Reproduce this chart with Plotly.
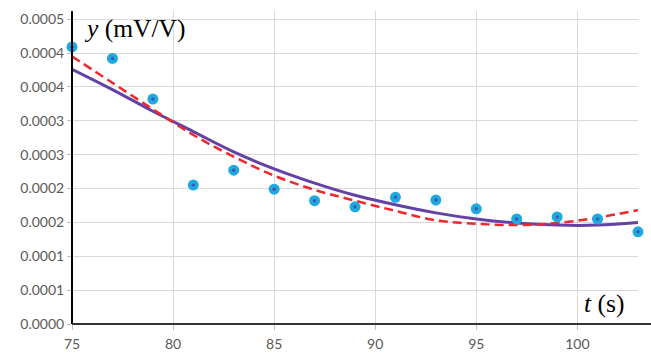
import plotly.graph_objects as go

# Measured data
t_data = [75, 77, 79, 81, 83, 85, 87, 89, 91, 93, 95, 97, 99, 101, 103]
y_data = [0.000409, 0.000392, 0.000332, 0.000205, 0.000227, 0.000199, 0.000182,
          0.000173, 0.000187, 0.000183, 0.000170, 0.000155, 0.000158, 0.000155, 0.000136]

# Fitted curves
t_fit = [75, 77, 79, 81, 83, 85, 87, 89, 91, 93, 95, 97, 99, 101, 103]
y_solid = [0.000376, 0.000346, 0.000314, 0.000284, 0.000254, 0.000229, 0.000208,
           0.000190, 0.000176, 0.000164, 0.000155, 0.000149, 0.000146, 0.000146, 0.000150]
y_dashed = [0.000395, 0.000356, 0.000317, 0.000279, 0.000247, 0.000219, 0.000198,
            0.000182, 0.000167, 0.000153, 0.000148, 0.000146, 0.000149, 0.000157, 0.000168]

x_ticks = [75, 80, 85, 90, 95, 100]
y_tick_vals = [0, 0.00005, 0.0001, 0.00015, 0.0002, 0.00025, 0.0003, 0.00035, 0.0004, 0.00045]
y_tick_text = ["0.0000", "0.0001", "0.0001", "0.0002", "0.0002", "0.0003", "0.0003",
               "0.0004", "0.0004", "0.0005"]

fig = go.Figure()
fig.add_trace(go.Scatter(x=t_fit, y=y_solid, mode="lines",
                         line=dict(color="#6441A5", width=3, shape="spline"), showlegend=False))
fig.add_trace(go.Scatter(x=t_fit, y=y_dashed, mode="lines",
                         line=dict(color="#F0282D", width=2.5, dash="9px,5px", shape="spline"),
                         showlegend=False))
fig.add_trace(go.Scatter(x=t_data, y=y_data, mode="markers",
                         marker=dict(color="#1FA9E1", size=11, line=dict(width=0)), showlegend=False,
                         cliponaxis=False))
fig.add_trace(go.Scatter(x=t_data, y=y_data, mode="markers",
                         marker=dict(color="#3B5AAE", size=3.5, line=dict(width=0)), showlegend=False,
                         cliponaxis=False))

tick_font = dict(family="Lato, Liberation Sans, sans-serif", size=14, color="#595959")

fig.update_layout(
    width=651, height=354,
    margin=dict(l=72, r=13, t=11, b=30),
    paper_bgcolor="white", plot_bgcolor="white",
    xaxis=dict(range=[75, 103], tickmode="array", tickvals=x_ticks, ticktext=[str(v) for v in x_ticks],
               showgrid=True, gridcolor="#D9D9D9", gridwidth=1, zeroline=False, automargin=False,
               showline=False, ticks="outside", ticklen=5, tickcolor="#BFBFBF",
               ticklabelstandoff=2, tickfont=tick_font),
    yaxis=dict(range=[0, 0.000462], tickmode="array", tickvals=y_tick_vals, ticktext=y_tick_text,
               showgrid=True, gridcolor="#D9D9D9", gridwidth=1, zeroline=False, automargin=False,
               showline=False, ticks="outside", ticklen=4, tickcolor="#BFBFBF",
               tickfont=tick_font),
    shapes=[
        dict(type="line", xref="paper", yref="paper", x0=0, x1=0, y0=0, y1=1,
             line=dict(color="black", width=2)),
        dict(type="line", xref="paper", yref="paper", x0=0, x1=579 / 566, y0=0, y1=0,
             line=dict(color="#333333", width=2)),
    ],
    annotations=[
        dict(text="<i>y</i> (mV/V)", xref="paper", yref="paper", x=10 / 566, y=1 - 17 / 313,
             xanchor="left", yanchor="middle", showarrow=False,
             font=dict(family="Liberation Serif, serif", size=25.5, color="black")),
        dict(text="<i>t</i> (s)", xref="paper", yref="paper", x=554 / 566, y=1 - 292 / 313,
             xanchor="right", yanchor="middle", showarrow=False,
             font=dict(family="Liberation Serif, serif", size=25.5, color="black")),
    ],
)

fig.write_html("out.html")
